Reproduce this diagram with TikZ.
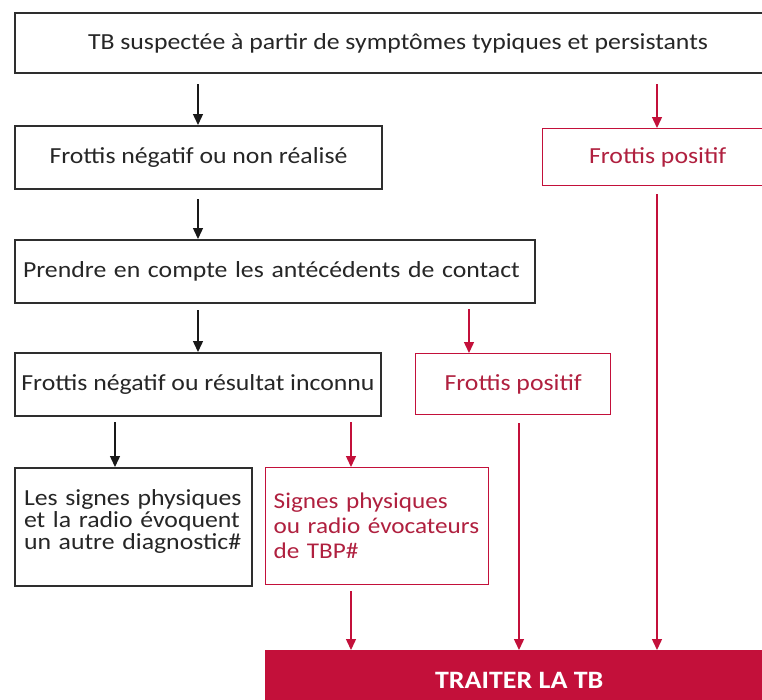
\documentclass[tikz,border=0pt]{standalone}
\usepackage{fontspec}
\setmainfont{Carlito}[FakeStretch=1.12]
\usetikzlibrary{arrows.meta}
\definecolor{tbred}{HTML}{C3103A}
\definecolor{tbtext}{HTML}{B0203F}
\definecolor{boxgray}{HTML}{2E2E2E}
\begin{document}
\begin{tikzpicture}[x=1pt,y=-1pt,
  basebox/.style={rectangle, anchor=north west, inner sep=0pt, font=\fontsize{23}{22}\selectfont},
  blackbox/.style={basebox, draw=boxgray, line width=2pt, fill=white, text=black!85},
  redbox/.style={basebox, draw=tbred, line width=1.4pt, fill=white, text=tbtext},
  treatbox/.style={basebox, fill=tbred, text=white, font=\fontsize{25}{25}\selectfont\bfseries},
  blackarrow/.style={draw=black!90, line width=1.4pt, -{Triangle[width=10pt,length=11pt]}},
  redarrow/.style={draw=tbred, line width=1.4pt, -{Triangle[width=10pt,length=11pt]}},
  gap/.style={shorten <=#1}
]
\useasboundingbox (0,0) rectangle (762,699);
\clip (0,0) rectangle (762,699);
\fill[white] (0,0) rectangle (762,699);

% columns
\coordinate (cA) at (198,0);
\coordinate (cB) at (657,0);
\coordinate (cC) at (469,0);
\coordinate (cD) at (519,0);
\coordinate (cE) at (115,0);
\coordinate (cF) at (351,0);

\node[blackbox, minimum width=766pt, minimum height=60pt] (top) at (14,12)
  {TB suspectée à partir de symptômes typiques et persistants};
\node[blackbox, minimum width=367pt, minimum height=63pt] (neg1) at (14,125)
  {Frottis négatif ou non réalisé};
\node[redbox, minimum width=230pt, minimum height=57pt] (pos1) at (542,128)
  {Frottis positif};
\node[blackbox, minimum height=63pt, inner xsep=8pt, text width=504pt, align=left] (contact) at (14,239)
  {Prendre en compte les antécédents de contact};
\node[blackbox, minimum width=366pt, minimum height=63pt] (neg2) at (14,352)
  {Frottis négatif ou résultat inconnu};
\node[redbox, minimum width=195pt, minimum height=61pt] (pos2) at (415,353)
  {Frottis positif};
\node[blackbox, minimum height=118pt, inner xsep=9pt, text width=219pt, align=left] (autre) at (14,467)
  {\mbox{Les signes physiques}\\\mbox{et la radio évoquent}\\\mbox{un autre diagnostic\#}\\[-8pt]\mbox{}};
\node[redbox, minimum height=117pt, inner xsep=8pt, text width=207pt, align=left,
  font=\fontsize{22.5}{25}\selectfont] (tbp) at (265,467)
  {\mbox{Signes physiques}\\\mbox{ou radio évocateurs}\\\mbox{de TBP\#}};
\node[treatbox, minimum width=508pt, minimum height=60pt] (treat) at (265,650)
  {TRAITER LA TB};

% connectors
\draw[blackarrow, gap=10pt] (top.south -| cA) -- (neg1.north -| cA);
\draw[redarrow, gap=10pt] (top.south -| cB) -- (pos1.north -| cB);
\draw[blackarrow, gap=9pt] (neg1.south -| cA) -- (contact.north -| cA);
\draw[redarrow, gap=8pt] (pos1.south -| cB) -- (treat.north -| cB);
\draw[blackarrow, gap=6pt] (contact.south -| cA) -- (neg2.north -| cA);
\draw[redarrow, gap=5pt] (contact.south -| cC) -- (pos2.north -| cC);
\draw[redarrow, gap=8pt] (pos2.south -| cD) -- (treat.north -| cD);
\draw[blackarrow, gap=5pt] (neg2.south -| cE) -- (autre.north -| cE);
\draw[redarrow, gap=5pt] (neg2.south -| cF) -- (tbp.north -| cF);
\draw[redarrow, gap=6pt] (tbp.south -| cF) -- (treat.north -| cF);
\end{tikzpicture}
\end{document}
